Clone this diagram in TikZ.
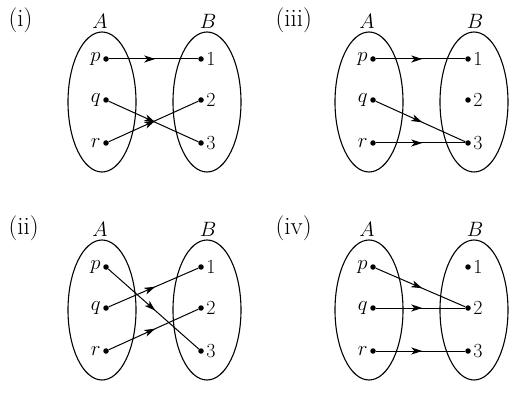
\documentclass[tikz,border=0pt]{standalone}
\usetikzlibrary{arrows.meta,shapes.geometric,decorations.markings}

\begin{document}
\begin{tikzpicture}[
    x=1pt, y=-1pt,
    font=\fontsize{20}{24}\selectfont,
    set/.style={draw, ellipse, line width=1.1pt, minimum width=68pt, minimum height=140pt, inner sep=0pt},
    dot/.style={circle, fill, inner sep=0pt, minimum size=5.5pt},
    tag/.style={anchor=west, font=\fontsize{25}{30}\selectfont},
    title/.style={font=\fontsize{20}{24}\selectfont},
    map/.style={line width=1pt, decoration={markings, mark=at position 0.52 with {\arrow{Stealth[length=11pt,width=7pt,inset=3pt]}}}, postaction={decorate}}
]
\useasboundingbox (0,0) rectangle (530,406);
\foreach \pn/\dx/\dy in {i/0/0, iii/267/0, ii/0/208, iv/267/208} {
  \begin{scope}[shift={(\dx,\dy)}]
    \node[tag] (\pn-tag) at (5,20) {(\pn)};
    \node[title] (\pn-Aname) at (100,21) {$A$};
    \node[title] (\pn-Bname) at (208,21) {$B$};
    \node[set] (\pn-A) at (102,102) {};
    \node[set] (\pn-B) at (207,102) {};
    \node[dot, label={[label distance=-1pt]left:$p$}] (\pn-p) at (106,59) {};
    \node[dot, label={[label distance=-1pt]left:$q$}] (\pn-q) at (106,100) {};
    \node[dot, label={[label distance=-1pt]left:$r$}] (\pn-r) at (106,143) {};
    \node[dot, label={[label distance=-1pt]right:1}] (\pn-1) at (201,59) {};
    \node[dot, label={[label distance=-1pt]right:2}] (\pn-2) at (201,100) {};
    \node[dot, label={[label distance=-1pt]right:3}] (\pn-3) at (201,143) {};
  \end{scope}
}
% (i)
\draw[map] (i-p) -- (i-1);
\draw[map] (i-q) -- (i-3);
\draw[map] (i-r) -- (i-2);
% (iii)
\draw[map] (iii-p) -- (iii-1);
\draw[map] (iii-q) -- (iii-3);
\draw[map] (iii-r) -- (iii-3);
% (ii)
\draw[map] (ii-p) -- (ii-3);
\draw[map] (ii-q) -- (ii-1);
\draw[map] (ii-r) -- (ii-2);
% (iv)
\draw[map] (iv-p) -- (iv-2);
\draw[map] (iv-q) -- (iv-2);
\draw[map] (iv-r) -- (iv-3);
\end{tikzpicture}
\end{document}
